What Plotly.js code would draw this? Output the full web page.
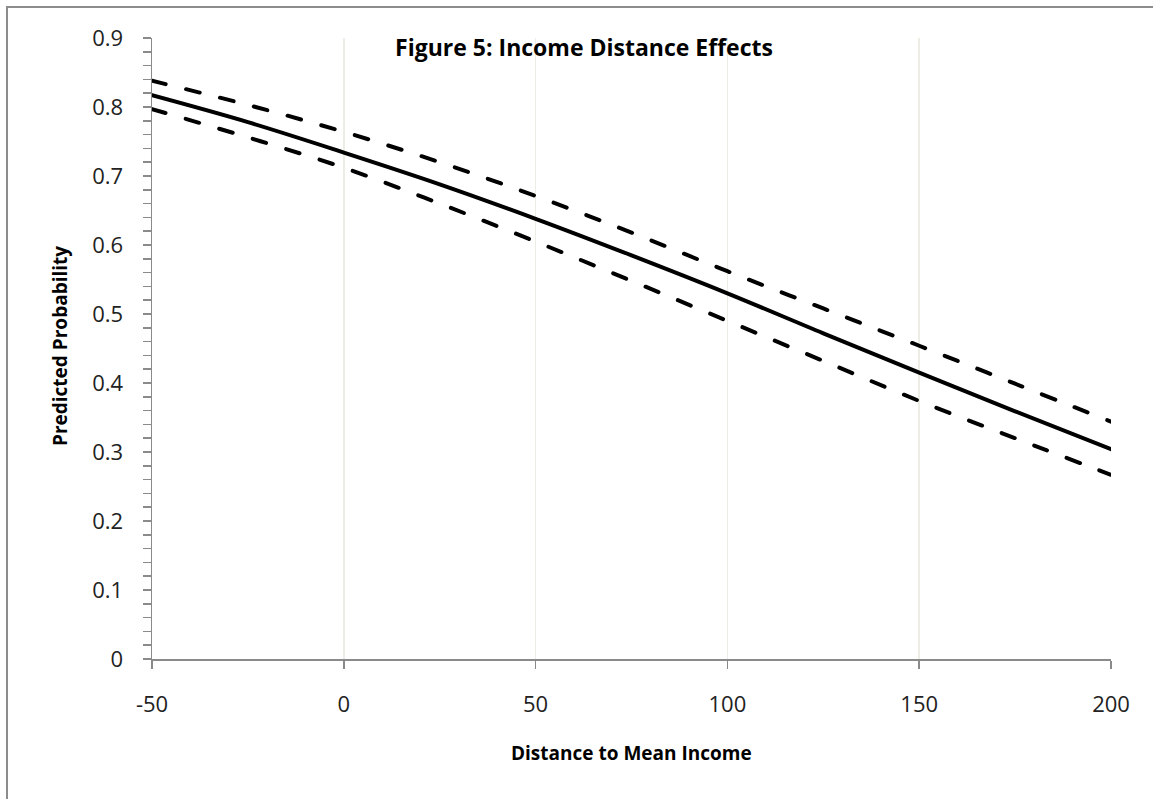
<!DOCTYPE html>
<html>
<head>
<meta charset="utf-8">
<script src="https://cdn.plot.ly/plotly-3.0.1.min.js"></script>
<style>
  html, body { margin: 0; padding: 0; background: #ffffff; }
  #wrap { position: relative; width: 1153px; height: 799px; overflow: hidden; }
  #chart { position: absolute; left: 0; top: 0; width: 1153px; height: 799px; }
  #frame { position: absolute; left: 6px; top: 6px; width: 1200px; height: 900px;
           border-top: 2px solid #8c8c8c; border-left: 2px solid #8c8c8c; pointer-events: none; }
  #chart .scatterlayer path.js-line { stroke-linecap: round; stroke-linejoin: round; }
</style>
</head>
<body>
<div id="wrap">
  <div id="chart"></div>
  <div id="frame"></div>
</div>
<script>
// Distance to mean income (x) and predicted probability with its confidence band
const distance = [-50, -25, 0, 25, 50, 75, 100, 125, 150, 175, 200];
const predicted = [0.817, 0.778, 0.734, 0.688, 0.638, 0.585, 0.530, 0.472, 0.415, 0.359, 0.304];
const upperBound = [0.838, 0.803, 0.764, 0.720, 0.671, 0.618, 0.562, 0.508, 0.454, 0.399, 0.344];
const lowerBound = [0.797, 0.756, 0.712, 0.660, 0.605, 0.548, 0.490, 0.432, 0.374, 0.320, 0.267];

const xTicks = [-50, 0, 50, 100, 150, 200];
const yTicks = [0, 0.1, 0.2, 0.3, 0.4, 0.5, 0.6, 0.7, 0.8, 0.9];

const chartTitle = 'Figure 5: Income Distance Effects';
const xTitle = 'Distance to Mean Income';
const yTitle = 'Predicted Probability';

const FONT = '"Open Sans", "Noto Sans", sans-serif';

function band(y, name) {
  return {
    x: distance, y: y, name: name, type: 'scatter', mode: 'lines',
    line: { color: '#000000', width: 4, dash: '14px,21px', shape: 'spline' },
    hoverinfo: 'x+y'
  };
}

const traces = [
  band(upperBound, 'Upper bound'),
  {
    x: distance, y: predicted, name: 'Predicted', type: 'scatter', mode: 'lines',
    line: { color: '#000000', width: 4, shape: 'spline' }
  },
  band(lowerBound, 'Lower bound')
];

const layout = {
  width: 1153, height: 799,
  margin: { l: 152, r: 42, t: 38, b: 140, pad: 0 },
  paper_bgcolor: 'rgba(0,0,0,0)',
  plot_bgcolor: '#ffffff',
  showlegend: false,
  font: { family: FONT, color: '#222222' },
  title: {
    text: chartTitle,
    font: { family: FONT, size: 23, color: '#000000', weight: 'bold' },
    xref: 'container', yref: 'container',
    x: 584 / 1153, y: 1 - 48 / 799, xanchor: 'center', yanchor: 'middle'
  },
  xaxis: {
    range: [-50, 200], tickvals: xTicks, ticktext: xTicks.map(String),
    showgrid: true, gridcolor: '#ededE6', gridwidth: 1.5,
    zeroline: false, showline: true, linecolor: '#8a8a8a', linewidth: 1.5,
    ticks: 'outside', ticklen: 8, tickwidth: 1.5, tickcolor: '#8a8a8a',
    ticklabelstandoff: 17,
    tickfont: { family: FONT, size: 22, color: '#222222' },
    fixedrange: true
  },
  yaxis: {
    range: [0, 0.9], tickvals: yTicks, ticktext: yTicks.map(v => String(v)),
    showgrid: false, zeroline: false, showline: true, linecolor: '#8a8a8a', linewidth: 1.5,
    ticks: 'outside', ticklen: 8, tickwidth: 1.5, tickcolor: '#8a8a8a',
    minor: { dtick: 0.02, ticks: 'outside', ticklen: 8, tickwidth: 1.5, tickcolor: '#8a8a8a', showgrid: false },
    ticklabelstandoff: 15,
    tickfont: { family: FONT, size: 22, color: '#222222' },
    fixedrange: true
  },
  annotations: [
    {
      text: xTitle, xref: 'paper', yref: 'paper',
      x: 0.5, y: -(753 - 659) / 621, xanchor: 'center', yanchor: 'middle',
      showarrow: false, font: { family: FONT, size: 19, color: '#000000', weight: 'bold' }
    },
    {
      text: yTitle, xref: 'paper', yref: 'paper',
      x: -(152 - 60) / 959, y: (659 - 346) / 621, xanchor: 'center', yanchor: 'middle',
      textangle: -90,
      showarrow: false, font: { family: FONT, size: 19, color: '#000000', weight: 'bold' }
    }
  ]
};

Plotly.newPlot('chart', traces, layout, { displayModeBar: false, staticPlot: true });
</script>
</body>
</html>
